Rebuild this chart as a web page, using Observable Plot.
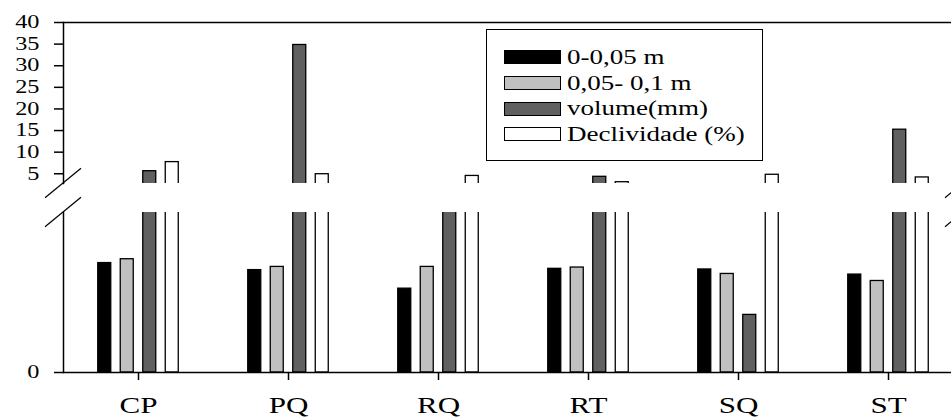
<!DOCTYPE html>
<html>
<head>
<meta charset="utf-8">
<script src="https://cdn.jsdelivr.net/npm/d3@7"></script>
<script src="https://cdn.jsdelivr.net/npm/@observablehq/plot@0.6"></script>
<style>
  body { margin: 0; background: #fff; }
  #wrap { position: relative; width: 951px; height: 418px; overflow: hidden; font-family: "Liberation Serif", serif; background: #fff; }
  #wrap svg { display: block; overflow: visible; }
  .legend { position: absolute; left: 486px; top: 29px; width: 275px; height: 130px; border: 1.5px solid #000; background: #fff; }
  .row { position: absolute; left: 17px; height: 20px; display: flex; align-items: center; }
  .sw { width: 55px; height: 12px; border: 1.4px solid #000; margin-right: 6px; flex: none; }
  .lab { font-size: 20px; color: #000; white-space: nowrap; display: inline-block; transform-origin: left center; }
</style>
</head>
<body>
<div id="wrap"></div>
<script>
// ---- data ----
const categories = ["CP", "PQ", "RQ", "RT", "SQ", "ST"];
const seriesNames = ["0-0,05 m", "0,05- 0,1 m", "volume(mm)", "Declividade (%)"];
const depth0_005 = [1.71, 1.60, 1.31, 1.62, 1.61, 1.53];
const depth005_01 = [1.77, 1.65, 1.65, 1.64, 1.54, 1.43];
const volume = [5.6, 34.8, 2.6, 4.3, 0.90, 15.2];
const declividade = [7.7, 4.9, 4.5, 3.05, 4.77, 4.15];
const upperTicks = [5, 10, 15, 20, 25, 30, 35, 40];
const lowerTicks = [0];
const upperDomain = [2.75, 40];
const lowerDomain = [0, 2.5];

const seriesValues = [depth0_005, depth005_01, volume, declividade];
const seriesFills = ["#000000", "#c0c0c0", "#606060", "#ffffff"];
const STRETCH = 1.35;

const bandW = 150, barW = 13, step = 22.5;
function barsFor() {
  return seriesValues.map((vals, i) => {
    const off = (i - 1.5) * step;
    const data = categories.map((c, j) => ({cat: c, v: vals[j]}));
    return Plot.barY(data, {
      x: "cat", y: "v", fill: seriesFills[i], stroke: "#000", strokeWidth: 1.3,
      insetLeft: bandW / 2 + off - barW / 2, insetRight: bandW / 2 - off - barW / 2,
      clip: true
    });
  });
}

const W = 951, L = 63, XR = [63, 963];
const style = {fontFamily: "Liberation Serif", fontSize: "19px", color: "#000", background: "transparent", overflow: "visible"};
const fmt = d => String(d);

const upper = Plot.plot({
  width: W, height: 198, marginTop: 22, marginBottom: 15, marginLeft: L, marginRight: 0,
  x: {type: "band", domain: categories, range: XR, padding: 0, axis: null},
  y: {domain: upperDomain, axis: null},
  style,
  marks: [
    ...barsFor(),
    Plot.axisY(upperTicks, {tickSize: 9, tickPadding: 15, strokeWidth: 1.5, fontSize: 18, fill: "#000", label: null, tickFormat: fmt}),
    Plot.ruleY([upperDomain[1]], {stroke: "#000", strokeWidth: 1.5}),
    Plot.frame({anchor: "left", stroke: "#000", strokeWidth: 1.5})
  ]
});

const lower = Plot.plot({
  width: W, height: 220, marginTop: 14, marginBottom: 46, marginLeft: L, marginRight: 0,
  x: {type: "band", domain: categories, range: XR, padding: 0, axis: null},
  y: {domain: lowerDomain, axis: null},
  style,
  marks: [
    ...barsFor(),
    Plot.axisY(lowerTicks, {tickSize: 9, tickPadding: 15, strokeWidth: 1.5, fontSize: 18, fill: "#000", label: null, tickFormat: fmt}),
    Plot.axisX(categories, {tickSize: 8, tickPadding: 16, strokeWidth: 1.5, fontSize: 23, fill: "#000", label: null}),
    Plot.ruleY([lowerDomain[0]], {stroke: "#000", strokeWidth: 1.5}),
    Plot.frame({anchor: "left", stroke: "#000", strokeWidth: 1.5})
  ]
});

const wrap = document.getElementById("wrap");
wrap.appendChild(upper);
wrap.appendChild(lower);

// break marks at both ends of the x range
function addBreak(svgEl, yPix) {
  const s = d3.select(svgEl);
  for (const xc of [L, XR[1]]) {
    s.append("line").attr("x1", xc - 18).attr("y1", yPix + 14.7).attr("x2", xc + 18).attr("y2", yPix - 14.7)
      .attr("stroke", "#000").attr("stroke-width", 1.2);
  }
}
addBreak(upper, upper.scale("y").apply(upperDomain[0]));
addBreak(lower, lower.scale("y").apply(lowerDomain[1]));

// horizontally stretched serif text, as in the source image
for (const t of wrap.querySelectorAll("svg text")) {
  const len = t.getComputedTextLength();
  if (len > 0) { t.setAttribute("textLength", len * STRETCH); t.setAttribute("lengthAdjust", "spacingAndGlyphs"); }
}

// legend (inside plot area)
const leg = document.createElement("div");
leg.className = "legend";
const rowTops = [17, 43, 68.5, 94];
seriesNames.forEach((name, i) => {
  const r = document.createElement("div");
  r.className = "row";
  r.style.top = rowTops[i] + "px";
  const sw = document.createElement("div");
  sw.className = "sw";
  sw.style.background = seriesFills[i];
  const lab = document.createElement("span");
  lab.className = "lab";
  lab.textContent = name;
  lab.style.transform = `scaleX(${STRETCH})`;
  r.appendChild(sw); r.appendChild(lab);
  leg.appendChild(r);
});
wrap.appendChild(leg);
</script>
</body>
</html>
